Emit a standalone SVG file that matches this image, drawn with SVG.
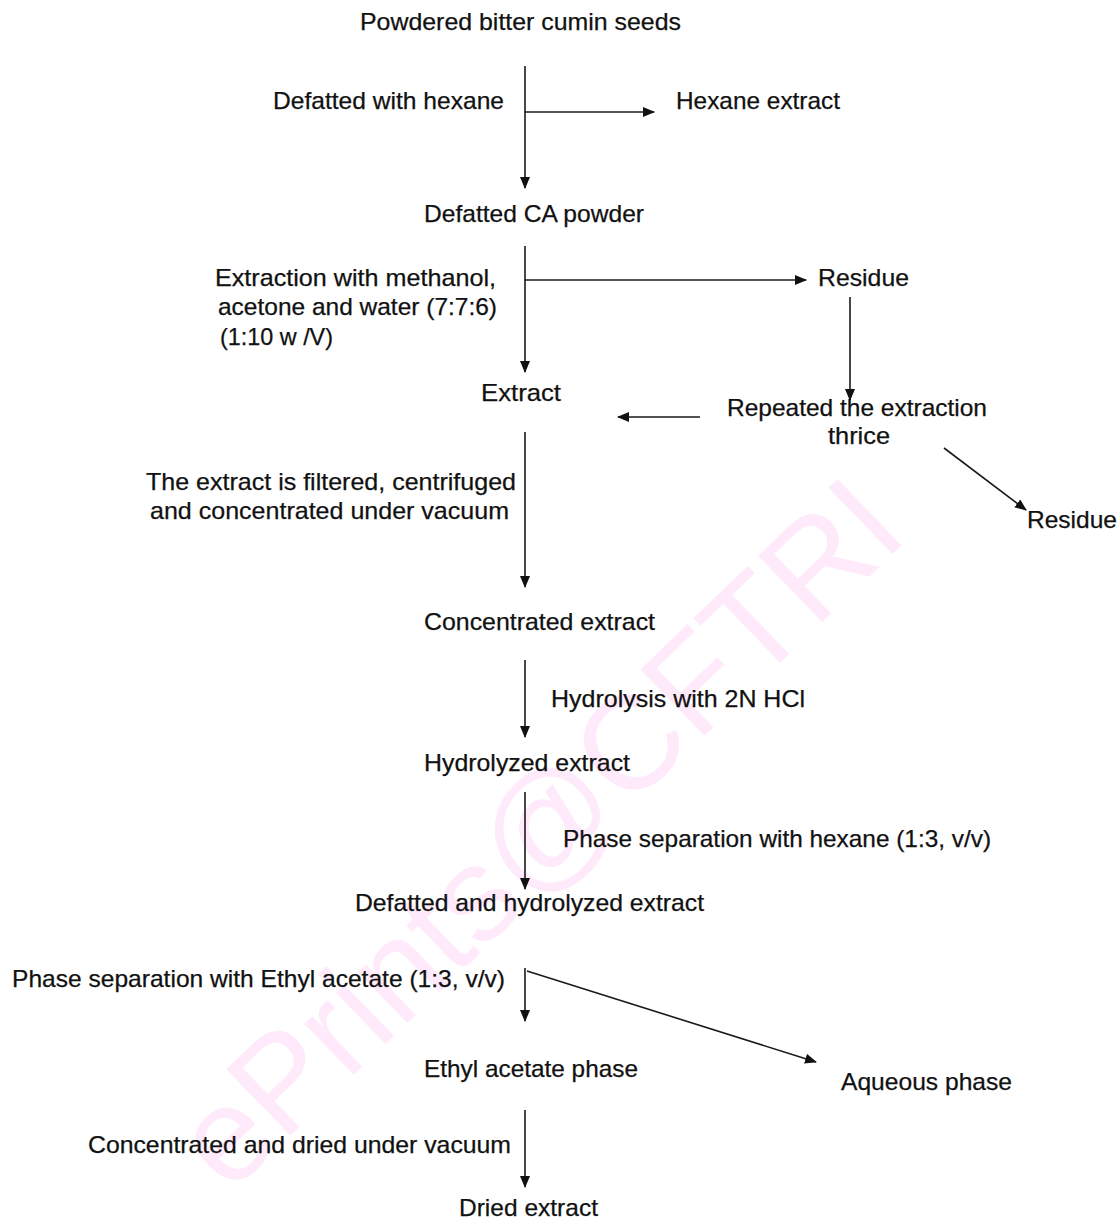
<svg xmlns="http://www.w3.org/2000/svg" width="1120" height="1221" viewBox="0 0 1120 1221">
<defs>
<style>
text{font-family:"Liberation Sans",Arial,sans-serif;font-size:24px;fill:#111;stroke:#111;stroke-width:0.25;}
.wm{font-size:134px;fill:#feeafb;stroke:none;}
.c{stroke:#1a1a1a;stroke-width:1.6;fill:none;marker-end:url(#ah);}
</style>
<marker id="ah" markerWidth="12" markerHeight="10" refX="11" refY="5" orient="auto" markerUnits="userSpaceOnUse">
<path d="M0,0 L12,5 L0,10 Z" fill="#111"/>
</marker>
</defs>
<rect width="1120" height="1221" fill="#fff"/>
<text class="wm" transform="translate(229,1195) rotate(-44)">ePrints@CFTRI</text>
<g id="connectors">
<path class="c" d="M525,66 V188"/>
<path class="c" d="M525,112 H654"/>
<path class="c" d="M525,246 V372"/>
<path class="c" d="M525,280 H806"/>
<path class="c" d="M850,297 V400"/>
<path class="c" d="M700,417 H618"/>
<path class="c" d="M944,448 L1026,510"/>
<path class="c" d="M525,432 V587"/>
<path class="c" d="M525,660 V737"/>
<path class="c" d="M525,792 V889"/>
<path class="c" d="M525,968 V1021"/>
<path class="c" d="M527,971 L816,1062"/>
<path class="c" d="M525,1110 V1187"/>
</g>
<g id="n1"><text x="360" y="30" textLength="321" lengthAdjust="spacingAndGlyphs">Powdered bitter cumin seeds</text></g>
<g id="l1"><text x="273" y="109" textLength="231" lengthAdjust="spacingAndGlyphs">Defatted with hexane</text></g>
<g id="n2"><text x="676" y="109" textLength="164" lengthAdjust="spacingAndGlyphs">Hexane extract</text></g>
<g id="n3"><text x="424" y="222" textLength="220" lengthAdjust="spacingAndGlyphs">Defatted CA powder</text></g>
<g id="l2">
<text x="215" y="286" textLength="281" lengthAdjust="spacingAndGlyphs">Extraction with methanol,</text>
<text x="218" y="315" textLength="279" lengthAdjust="spacingAndGlyphs">acetone and water (7:7:6)</text>
<text x="220" y="345" textLength="113" lengthAdjust="spacingAndGlyphs">(1:10 w /V)</text>
</g>
<g id="n4"><text x="818" y="286" textLength="91" lengthAdjust="spacingAndGlyphs">Residue</text></g>
<g id="n5"><text x="481" y="401" textLength="80" lengthAdjust="spacingAndGlyphs">Extract</text></g>
<g id="n6">
<text x="727" y="416" textLength="260" lengthAdjust="spacingAndGlyphs">Repeated the extraction</text>
<text x="828" y="444" textLength="62" lengthAdjust="spacingAndGlyphs">thrice</text>
</g>
<g id="n7"><text x="1027" y="528" textLength="90" lengthAdjust="spacingAndGlyphs">Residue</text></g>
<g id="l3">
<text x="146" y="490" textLength="370" lengthAdjust="spacingAndGlyphs">The extract is filtered, centrifuged</text>
<text x="150" y="519" textLength="359" lengthAdjust="spacingAndGlyphs">and concentrated under vacuum</text>
</g>
<g id="n8"><text x="424" y="630" textLength="231" lengthAdjust="spacingAndGlyphs">Concentrated extract</text></g>
<g id="l4"><text x="551" y="707" textLength="254" lengthAdjust="spacingAndGlyphs">Hydrolysis with 2N HCl</text></g>
<g id="n9"><text x="424" y="771" textLength="206" lengthAdjust="spacingAndGlyphs">Hydrolyzed extract</text></g>
<g id="l5"><text x="563" y="847" textLength="428" lengthAdjust="spacingAndGlyphs">Phase separation with hexane (1:3, v/v)</text></g>
<g id="n10"><text x="355" y="911" textLength="349" lengthAdjust="spacingAndGlyphs">Defatted and hydrolyzed extract</text></g>
<g id="l6"><text x="12" y="987" textLength="493" lengthAdjust="spacingAndGlyphs">Phase separation with Ethyl acetate (1:3, v/v)</text></g>
<g id="n11"><text x="424" y="1077" textLength="214" lengthAdjust="spacingAndGlyphs">Ethyl acetate phase</text></g>
<g id="n12"><text x="841" y="1090" textLength="171" lengthAdjust="spacingAndGlyphs">Aqueous phase</text></g>
<g id="l7"><text x="88" y="1153" textLength="423" lengthAdjust="spacingAndGlyphs">Concentrated and dried under vacuum</text></g>
<g id="n13"><text x="459" y="1216" textLength="139" lengthAdjust="spacingAndGlyphs">Dried extract</text></g>
</svg>
